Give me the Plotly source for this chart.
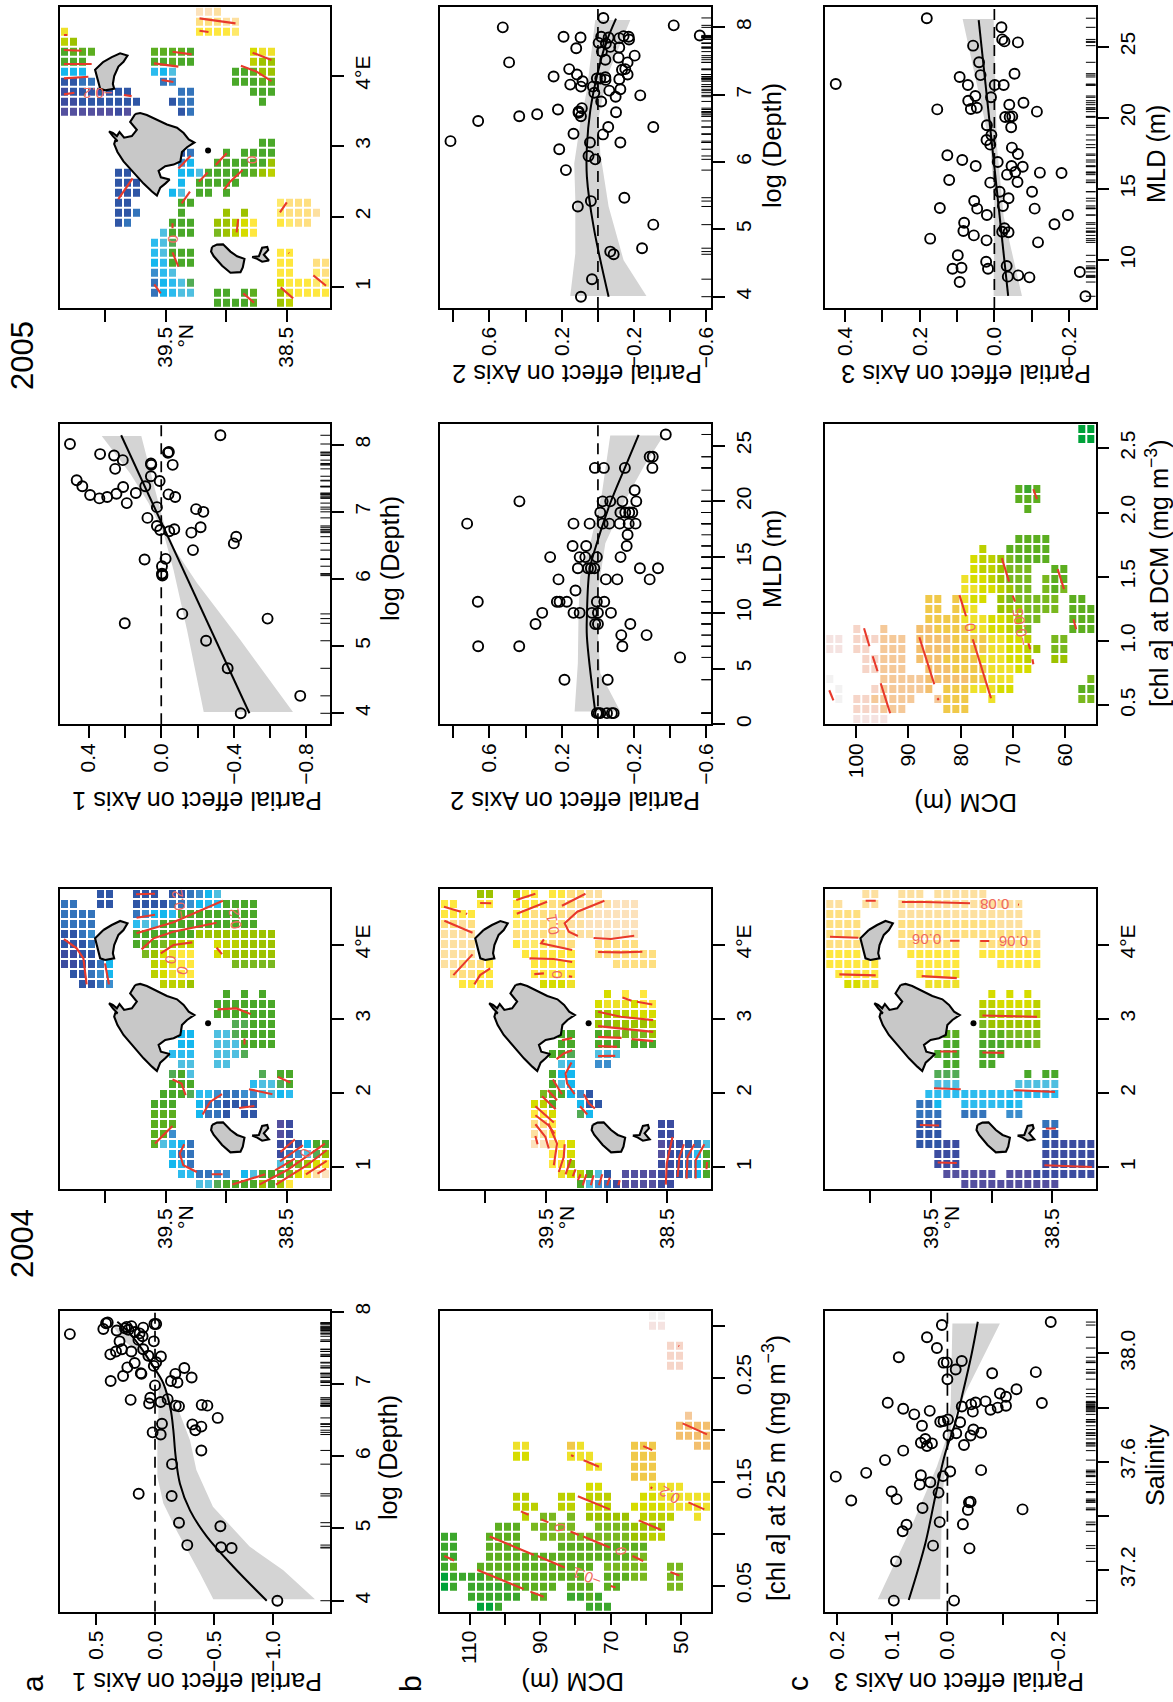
import numpy as np
import plotly.graph_objects as go

W, H = 1173, 1702
FONT = "Liberation Sans"
RED = "#e8392b"

# ---------- palette of cell classes ----------
PAL_KEYS = "abcdefghijklmnopqrstuvwxyzABC"
PAL_COLS = ["#54509f", "#3c4ca0", "#2f56a6", "#3474bb", "#3b8ecd", "#15b7ee", "#2bbbee", "#4fbfe0",
            "#52ab55", "#4aa829", "#5cae20", "#7ab81f", "#9dc200", "#bcd000", "#d6dc00", "#eee12a",
            "#fee73f", "#fee96a", "#fedf80", "#fde0a0", "#fce2bc",
            "#00a23a", "#3ca72c", "#f0c94a", "#f3bf6e", "#f5c999", "#f6d5c8", "#f5e3e1", "#f3f2f2"]

# ---------- a, depth 2004 ----------
PTS_A1 = [(-1.035,4.0),(-.648,4.73),(-.558,4.74),(-.273,4.77),(-.553,5.03),(-.203,5.08),(-.141,5.45),(.138,5.48),
 (-.144,5.89),(-.392,6.08),(-.048,6.30),(.02,6.33),(-.341,6.36),(-.392,6.41),(-.316,6.44),(-.059,6.45),(-.53,6.53),
 (-.443,6.70),(-.395,6.71),(-.203,6.69),(-.175,6.70),(-.048,6.75),(.05,6.73),(.04,6.81),(-.107,6.79),(.206,6.78),
 (0,6.98),(.375,7.04),(-.19,7.02),(-.135,7.04),(-.31,7.09),(-.172,7.14),(.27,7.11),(.115,7.14),(.12,7.15),(-.248,7.22),
 (.234,7.23),(.01,7.25),(.172,7.29),(-.01,7.30),(-.05,7.38),(.056,7.39),(.378,7.41),(.33,7.45),(.28,7.48),(.2,7.45),
 (.1,7.48),(.30,7.59),(.01,7.59),(.105,7.66),(.72,7.69),(.13,7.70),(.17,7.72),(.324,7.74),(.254,7.77),(.2,7.80),(.1,7.78),
 (.437,7.76),(-.01,7.83),(.005,7.83),(.414,7.84),(.40,7.85),(.225,7.75),(.14,7.61),(.24,7.79)]
FIT_A1 = [(-.945,4.0),(-.663,4.47),(-.437,4.89),(-.296,5.25),(-.211,5.62),(-.175,5.99),(-.155,6.36),(-.133,6.64),(-.07,7.01),(.014,7.24),(.127,7.52),(.225,7.72),(.319,7.86)]
LO_A1 = [(-1.353,4.02),(-1.085,4.42),(-.80,4.75),(-.49,5.30),(-.35,5.81),(-.296,6.22),(-.21,6.59),(-.07,6.96),(.04,7.33),(.18,7.65),(.27,7.77)]
HI_A1 = [(-.493,4.02),(-.38,4.38),(-.18,4.98),(-.07,5.35),(-.02,5.72),(-.02,6.13),(-.03,6.68),(-.03,7.0),(-.01,7.19),(.1,7.38),(.27,7.61),(.35,7.79)]

# ---------- c, salinity 2004 ----------
PTS_C1 = [(.097,37.087),(-.012,37.087),(.093,37.232),(.026,37.29),(-.04,37.28),(.081,37.343),(.074,37.367),(.014,37.377),
 (-.028,37.369),(.045,37.429),(-.037,37.422),(-.136,37.424),(-.039,37.45),(-.042,37.452),(.174,37.457),(.092,37.462),
 (.101,37.49),(.016,37.486),(.05,37.516),(.031,37.524),(.048,37.55),(.008,37.547),(.202,37.545),(.147,37.559),(-.005,37.564),
 (-.061,37.569),(.113,37.606),(.08,37.641),(-.03,37.662),(.048,37.67),(.037,37.658),(.028,37.668),(.04,37.684),(-.002,37.698),
 (-.016,37.705),(-.042,37.697),(-.061,37.707),(-.047,37.719),(.046,37.733),(-.023,37.746),(.013,37.748),(.007,37.75),(-.001,37.756),
 (.06,37.775),(.032,37.788),(.08,37.796),(-.046,37.785),(-.078,37.792),(-.091,37.80),(-.106,37.807),(.108,37.818),(-.026,37.804),
 (-.043,37.812),(-.051,37.819),(-.069,37.823),(-.171,37.817),(-.106,37.84),(-.095,37.852),(-.125,37.868),(0,37.905),(-.081,37.927),
 (-.16,37.931),(-.015,37.941),(.001,37.967),(.007,37.966),(-.026,37.972),(.088,37.986),(.019,38.02),(.037,38.06),(.01,38.105),(-.187,38.116)]
FIT_C1 = [(.07,37.089),(.04,37.298),(.022,37.471),(.004,37.631),(-.014,37.742),(-.029,37.865),(-.044,38.0),(-.055,38.117)]
LO_C1 = [(.126,37.092),(.073,37.323),(.019,37.582),(.001,37.692),(-.006,37.815),(-.009,38.111)]
HI_C1 = [(.013,37.092),(.01,37.446),(.001,37.643),(-.008,37.742),(-.035,37.865),(-.095,38.111)]

# ---------- a, depth (second year column) ----------
PTS_A2 = [(-.438,4.0),(-.766,4.26),(-.366,4.67),(-.247,5.08),(-.586,5.41),(.201,5.34),(-.116,5.48),(-.006,6.05),(-.004,6.08),
 (-.004,6.19),(-.024,6.30),(.092,6.29),(-.175,6.43),(-.40,6.53),(-.413,6.63),(-.166,6.69),(-.044,6.71),(.006,6.73),(-.072,6.74),
 (-.217,6.77),(.024,6.79),(.076,6.91),(-.232,7.0),(-.192,7.04),(.024,7.07),(.19,7.13),(.341,7.20),(.298,7.22),(.392,7.25),(.247,7.27),
 (.14,7.28),(-.04,7.26),(-.077,7.22),(.435,7.38),(.21,7.37),(.088,7.38),(.466,7.47),(.009,7.46),(.057,7.53),(.254,7.64),(.055,7.70),
 (-.063,7.70),(.057,7.72),(.212,7.77),(.26,7.84),(.337,7.86),(-.037,7.88),(-.042,7.89),(.503,8.01),(-.326,8.14),(-.006,6.07)]
FIT_A2 = [(-.486,4.0),(.221,8.14)]
LO_A2 = [(-.726,4.02),(-.436,5.09),(-.197,5.94),(-.04,6.58),(.015,7.13),(.11,8.13)]
HI_A2 = [(-.234,4.02),(-.142,5.24),(-.068,6.13),(-.013,6.68),(.07,7.13),(.171,7.57),(.328,8.13)]

# ---------- MLD, Axis 2 ----------
MLD_B2 = {1:[.006,-.013,-.05,-.077,-.087,-.004],4:[.185,-.054],6:[-.454],7:[.662,.435,-.135],8:[-.129,-.269],9:[.345,.015,0,-.179],
 10:[.308,.135,.101,.033,0,-.072],11:[.664,.227,.212,.172,.006,-.035],12:[.124],13:[.218,-.044,-.107,-.286],14:[.111,.055,.039,.02,-.232,-.332],
 15:[.264,.101,.07,.006,-.125],16:[.14,.065,-.159],17:[-.164],18:[.723,.135,.046,-.026,-.063,-.12,-.17,-.208],19:[-.013,-.124,-.151,-.173,-.19],
 20:[.434,-.026,-.068,-.135,-.212],21:[-.203],23:[.017,-.033,-.149,-.301],24:[-.286,-.303],26:[-.375]}
PTS_B2 = [(v, m) for m, vals in MLD_B2.items() for v in vals]
FIT_B2 = [(.015,1.14),(.061,7.86),(.061,9.66),(.046,13.85),(.006,16.24),(-.068,19.83),(-.151,23.1),(-.225,25.96)]
LO_B2 = [(-.124,1.14),(-.013,4.57),(.002,8.76),(-.004,12.35),(-.041,16.24),(-.142,19.83),(-.253,23.1),(-.363,25.9)]
HI_B2 = [(.129,1.14),(.111,5.47),(.107,10.26),(.098,13.25),(.042,16.24),(-.022,20.72),(-.068,25.9)]

# ---------- depth, Axis 2 ----------
PTS_B3 = [(.094,4.0),(.033,4.26),(-.244,4.72),(-.068,4.67),(-.087,4.63),(-.306,5.07),(.111,5.34),(.039,5.42),(-.146,5.47),(.177,5.88),
 (.015,6.04),(.052,6.09),(.214,6.19),(.044,6.29),(-.124,6.29),(.815,6.31),(.135,6.42),(-.028,6.41),(-.057,6.52),(-.306,6.52),(.662,6.61),
 (.435,6.68),(.336,6.71),(.107,6.73),(.094,6.68),(.107,6.75),(.089,6.80),(.221,6.78),(-.1,6.74),(-.018,6.90),(-.098,6.97),(-.234,6.99),
 (.02,7.03),(.028,7.12),(-.124,7.08),(-.063,7.06),(.153,7.15),(.094,7.12),(.085,7.20),(.245,7.27),(.006,7.24),(-.013,7.24),(-.041,7.26),
 (-.042,7.22),(-.118,7.23),(-.164,7.30),(.116,7.30),(.159,7.38),(-.133,7.37),(-.151,7.38),(-.164,7.48),(.491,7.48),(-.041,7.52),(-.114,7.55),
 (-.203,7.58),(-.022,7.64),(.12,7.69),(-.118,7.70),(-.068,7.71),(-.004,7.77),(-.044,7.76),(.19,7.86),(.096,7.85),(-.018,7.86),(-.059,7.85),
 (-.118,7.84),(-.142,7.87),(-.17,7.86),(-.172,7.82),(-.419,8.03),(.526,8.0),(-.563,7.88),(-.03,8.14)]
FIT_B3 = [(-.059,4.0),(.024,5.04),(.061,5.78),(.061,6.23),(.042,6.77),(.006,7.27),(-.041,7.74),(-.1,8.13)]
LO_B3 = [(-.268,4.01),(-.142,4.54),(-.059,5.34),(-.013,6.13),(-.004,6.67),(-.05,7.27),(-.179,8.11)]
HI_B3 = [(.153,4.01),(.125,4.64),(.125,5.44),(.131,5.98),(.098,6.57),(.061,7.07),(.015,8.11)]

# ---------- MLD, Axis 3 ----------
PTS_C3 = [(-.244,7.45),(.093,8.45),(-.036,8.83),(-.064,8.92),(-.094,8.78),(-.229,9.16),(.112,9.39),(.088,9.46),(.017,9.39),(-.033,9.58),
 (.022,9.88),(.098,10.33),(-.117,11.24),(.021,11.38),(.172,11.5),(.055,11.73),(.083,12.04),(-.021,11.99),(-.038,11.95),(-.027,12.23),
 (.081,12.62),(-.161,12.51),(.02,13.16),(-.197,13.16),(.046,13.61),(.146,13.66),(-.023,13.8),(-.108,13.61),(.054,14.15),(-.038,14.34),
 (-.101,14.8),(-.014,14.8),(.011,15.44),(-.062,15.48),(.121,15.62),(-.034,16.0),(-.056,16.19),(-.122,16.14),(-.18,16.12),(-.046,16.61),
 (-.076,16.56),(.05,16.61),(-.009,16.89),(.086,17.03),(.126,17.36),(-.063,17.45),(-.047,17.9),(.011,18.11),(.021,18.44),(.008,18.79),
 (.02,19.47),(-.045,19.33),(-.029,20.05),(-.041,20.05),(-.048,20.1),(-.114,20.43),(.153,20.59),(.063,20.62),(.047,20.71),(.07,21.2),
 (-.078,21.06),(-.04,20.92),(.051,21.53),(.009,21.44),(.425,22.37),(.071,22.3),(-.001,22.3),(-.025,22.3),(.093,22.87),(.037,23.0),
 (-.054,23.1),(.041,23.9),(.057,25.07),(-.063,25.3),(-.021,25.51),(-.027,25.37),(-.019,26.36),(.181,27.0)]
FIT_C3 = [(-.037,7.47),(.042,26.87)]
LO_C3 = [(-.074,7.47),(-.025,13.05),(-.007,18),(.002,26.95)]
HI_C3 = [(.002,7.47),(0,14.2),(.011,18),(.085,26.95)]

# ---------- coastlines (lat, lon) ----------
MALLORCA = [(39.751,3.456),(39.71,3.47),(39.655,3.443),(39.586,3.389),(39.489,3.308),(39.406,3.263),(39.351,3.187),(39.309,3.097),(39.262,3.052),
 (39.323,2.985),(39.365,2.917),(39.378,2.783),(39.434,2.738),(39.503,2.715),(39.558,2.648),(39.539,2.558),(39.467,2.527),(39.503,2.468),(39.544,2.41),
 (39.572,2.298),(39.613,2.356),(39.682,2.468),(39.765,2.625),(39.848,2.783),(39.898,2.917),(39.925,3.03),(39.917,3.075),(39.898,3.075),(39.936,3.142),
 (39.967,3.209),(39.936,3.187),(39.903,3.142),(39.881,3.2),(39.862,3.164),(39.843,3.12),(39.779,3.142),(39.738,3.232),(39.793,3.344),(39.751,3.456)]
MENORCA = [(40.014,4.197),(39.945,4.264),(39.876,4.318),(39.815,4.287),(39.848,4.197),(39.89,4.13),(39.925,3.995),(39.936,3.883),(39.925,3.815),
 (40.0,3.793),(40.041,3.815),(40.064,3.95),(40.083,4.085),(40.014,4.197)]
IBIZA = [(39.116,1.57),(39.075,1.602),(39.025,1.606),(38.964,1.503),(38.909,1.436),(38.848,1.4),(38.862,1.278),(38.881,1.211),(38.964,1.202),
 (39.033,1.301),(39.102,1.436),(39.124,1.503),(39.116,1.57)]
FORMENTERA = [(38.785,1.427),(38.729,1.436),(38.702,1.557),(38.66,1.57),(38.652,1.525),(38.688,1.458),(38.646,1.377),(38.702,1.359),(38.743,1.4),(38.785,1.427)]
CABRERA = (39.149, 2.94)

# ---------- gridded surfaces: "start column:cell classes" per row ----------
GRID_MAP_A04 = ["4:cc 8:ccc 12:ccdefh","0:dd 4:cc 8:ccccddefggjjjj","0:dddd 8:deffgjjjjjjjjj","0:dddd 8:ghhjjjjjjjjjjj","0:ccde 8:jjjjjjjmmmmmmmmm",
 "0:cccd 8:jkklmnn 17:onnmmmm","0:bbcc 9:lmopqq 17:onmmmmm","0:bbccdf 10:nopqq 19:lllll","1:ccdef 10:nopqq","2:ccde 11:nnnm","18:j 20:j 22:j","17:jjjjjjj","17:jjjjjjj",
 "19:iijjj","13:ff 17:hh 19:ijjjj","13:ff 17:hhh 20:jjjj","12:ggg 17:hhhi","13:hh 17:hh","12:ijh 22:i 24:jj","12:jjj 21:ghh 24:ij","11:jjjiggeddeehhfg",
 "10:jjj 15:fddcccc","10:kkk 15:fddc 20:cc","10:kkk 24:ab","10:kke 24:ab","10:khgfd 24:bbcfjj","12:gdd 24:bdehim","12:fgd 24:hjlmoq","13:ggddee 20:fhjjjloqtu","15:hhijjjjmjmq"]
GRID_MAP_B04 = ["4:mm 8:nqq 12:qqsstt","0:qq 4:qq 8:qqqrsssttttuuu","0:qqqq 8:qqsssstttuuuuu","0:ssts 8:rrssssttuuuuuu","0:tttt 8:sssssstttuuuuu",
 "0:tttt 8:qrrrsss 17:sssss","0:tttt 9:qqqqqq 17:sssssss","0:ttsssq 10:qqqqq 19:sssss","1:sssqq 10:qqqqq","2:qqqq 11:ooop","18:o 20:q 22:q","17:opppoqq","17:mmnnooo",
 "17:mlmmmmn","13:jj 17:jkllllm","13:jj 17:jjj 21:jjj","12:jji 17:hhh","13:hg 17:ee","12:jff","12:jhf","11:lkjf 15:ec","10:onj 15:fcc","10:qqo 15:if","10:ssq 24:bb","10:ttq 24:bb",
 "10:uusqo 24:abbcdh","12:qqo 24:abcdgj","12:qqm 24:bbcdfj","13:ponjhc 20:aaaabbcdfj","15:jhedbaaaabb"]
GRID_MAP_C04 = ["4:tt 8:ttt 12:tttttt","0:tt 4:tt 8:tttttttttttttt","0:ssss 8:tttttttttttttt","0:ssss 8:sssssssssssttt","0:ssss 8:ssssssssssssssss",
 "0:ssss 8:sssssss 17:sssssss","0:qqqq 9:qqqqqq 17:qqqqqqq","0:qqqqqq 10:qqqqq 19:qqqqq","1:qqqqq 10:qqqqp","2:oopp 11:pppp","18:o 20:o 22:o","17:nnoooon","17:mmnnnnn",
 "17:lmmmmmm","13:kk 17:kkkllll","13:jj 17:jjjkkkl","12:jjj 17:jjj","13:jj 17:jj","12:iii 22:j 24:jj","12:hhh 21:hhhhh","11:ggggggggggggggg","10:ddf 15:gggggfg","10:ddd 15:ddd 20:ee",
 "10:ccc 24:dd","10:ccc 24:cc","10:cccbb 24:cbbbbb","12:bbb 24:bbbbbb","12:bbb 24:bbbbbb","13:aaaaaa 20:aaabbbbbbb","15:aaaaaaaaaaa"]
GRID_MAP_A05 = ["15:uut","15:ssstt","0:p 15:qqqqr","0:nm","0:jkkk 10:kkkkj 21:opp","0:jjj 10:jjkjj 21:nmm","0:fff 10:gfh 19:jjkmm","0:ccdd 11:de 19:jjjkk","0:bccccccc 13:dd 21:jjj",
 "0:bbccccccc 12:cdd 22:j","0:aaaaaaba 13:cd","","","22:jj","13:cd 18:j 20:jjjj","13:ef 17:jjjjjjm","6:cc 13:ffhj 17:jjjjkmn","6:ccc 13:f 15:jjjjj","6:ccc 12:fh 15:jj 18:j","6:cc 13:jj 24:rsss",
 "6:ccd 13:j 18:m 20:m 24:rssst","6:cd 12:jjj 17:mmnoq 24:qrss","11:hjjj 17:lmnoq","10:ghi","10:gh 12:jjj 24:qq","10:fg 12:jjj 24:qq 28:ss","10:egh 24:qq 28:rs","10:dfghi 24:oqqqrr",
 "10:dfghh 17:jj 20:jk 24:mpqqqq","17:jjjjk 24:mn"]
GRID_DCM_25 = ["23:CC","23:BB","","25:AA","25:AA","25:AA","","","","","27:z","26:yyyy","26:yyyy","8:pp 14:xp 21:xxx 28:yy","8:oo 14:ppp 21:xxx","16:pp 21:xxx","21:xxx","16:oo 23:pppp",
 "8:nn 13:nn 16:nnn 22:oopppppp","8:nnn 13:nn 16:nnn 21:ooooppppp","9:n 11:ll 14:l 16:mmmmm 22:nnnn 28:p","6:kkk 10:lllll 17:llllmmmm","0:ww 5:kkkk 11:llllllllllmmnn","0:ww 5:kkkk 13:kkkkkkkkkk",
 "0:ww 5:kkkkkkkkkkkkkkkkll","0:wk 4:kkkkkkkkkkkk 16:k 18:lllll 25:ll","0:vw 2:wwwkkkkkkkkkkk 18:kkkll 25:ll","0:vw 3:wwwwwkkkkk 14:kkk 18:kk 25:ll","3:wwwwww 10:kk 14:wwkw","4:vvw 16:www"]
GRID_DCM_CHL = ["28:vv","28:vv","","","","","21:kwk","21:kkk","22:k","","","21:kkkk","17:n 20:kkkkk","16:onnmlkkkk","16:onnmlll 25:kk","15:poonmlll 24:lkk","15:ppoonmll 24:lkl",
 "11:xx 14:xpoo 19:mllllll 27:kk","11:xx 14:xpp 19:mmmllll 27:kkk","11:xxxxpppoonmll 27:kkk","3:A 6:z 10:yyxxxxppoonml 27:kkk","0:BB 3:AAAzzz 10:yyyyxxxxppoon 25:ll",
 "0:BB 3:AA 6:zzz 10:yyyyxxxxppoon 23:m 25:ll","4:AA 6:zzz 10:yyyxxxxpppoon 25:mm","4:AA 6:zzz 11:yyyxxxxpppoo","0:C 6:zzzzzyyyyyxxppp 29:l","1:C 5:Azzzzzy 13:xxxpppoo 28:kk",
 "1:C 3:AAzzzzz 12:zxxx 18:p 28:ll","3:AAAzzz 13:xxx","3:BBBB"]

# ---------- contours, in cell units of the 30 x 30 grid ----------
CONT_MAP_A04 = [[(8.44,.53),(10.56,.47)],[(8.5,2.87),(10.56,2.57)],[(8.5,4.43),(12.6,3.33),(18.1,1.17)],[(9.07,6.03),(10.4,4.93),(12.6,4.27),(17.4,3.37)],
 [(11.2,6.43),(12.6,5.6),(14.7,5.33)],[(17.4,5.87),(18,6.5)],[(.44,5),(1.85,5.93),(2.6,6.93),(2.96,9.53)],[(5,7.43),(5.44,9.53)],[(17.5,12.03),(19.6,11.93),(21.2,12.5)],
 [(20.5,14.93),(20.5,15.53)],[(12.5,19.03),(13.5,19.43),(13.96,20.6)],[(18,20.5),(16.67,21.27),(15.85,22.53)],[(21,20),(23.6,20.5)],[(24.2,18.77),(25.6,19.33)],
 [(19.9,21.87),(21.6,21.67)],[(10.56,25.43),(12.5,23.67)],[(13.8,25.5),(13.3,26.43),(13.7,27.6),(15.2,28.27)],[(16.85,28.5),(18.07,28.5)],[(19.15,29.53),(22.8,28.5)],
 [(22.15,29.53),(25.2,28.1),(29.44,25.43)],[(24,29.53),(27.4,27.6),(29.63,26.1)],[(23.9,28.1),(26.1,26.93)],[(24.44,27.2),(27,25.6)],[(24.5,26.27),(26.1,25.03)],
 [(27.33,28.5),(29.63,27.17)],[(28.6,28.43),(29.56,27.93)]]
CONT_MAP_B04 = [[(8.44,1.1),(10.56,.47)],[(8.5,2.47),(11.85,1.27)],[(13.5,1.67),(16.1,.47)],[(4.44,1.4),(5.67,1.43)],[(.44,1.77),(2.3,2.27)],[(.48,3.17),(3.6,4.37)],[(2.87,2.43),(3,2.5)],
 [(18.2,1.17),(15.2,2.27),(13.8,3.43),(14.26,4.27),(15.26,4.7)],[(17,4.9),(18.9,5),(21.5,4.67)],[(17.5,6.3),(20,6.33),(22.4,6.27)],[(11.5,5.03),(11.2,5.43),(14.63,6.1)],
 [(9.9,6.93),(12.6,7),(14.63,7.3)],[(10.44,8.5),(11.5,8.43)],[(14.26,8.73),(14.63,8.77)],[(3.6,6.53),(1.48,8.6)],[(5.56,7.93),(4.44,8.6),(3.8,9.53)],[(20.2,10.83),(21.2,11.17)],
 [(21.8,11.27),(23.5,11.53)],[(17.5,12.27),(20,12.77),(23.6,13.1)],[(17.5,13.7),(20.7,14.03),(23.6,14.27)],[(17.5,14.77),(20.1,14.87)],[(21.2,15),(23.6,15.2)],[(17.5,15.7),(19.6,15.77)],
 [(17.5,16.7),(19.4,16.67)],[(13.5,15.1),(14.63,14.9)],[(12.9,17),(13.7,16.43),(14.63,16.1)],[(14.56,17.33),(13.9,18.43),(14.07,19.43),(14.9,20.5)],[(12.5,19.03),(13.5,20.5)],
 [(11.93,20.1),(12.96,21.1)],[(11.3,20.7),(12.8,22)],[(10.56,21.7),(12.6,23.33)],[(10.56,22.6),(12,23.6),(12.67,24.43)],[(10.56,23.5),(11.67,24.77),(12.04,25.93)],
 [(12,23.43),(12.96,25.43),(12.6,27.6)],[(10.56,24.67),(10.8,25.5)],[(13.8,25.5),(13.7,26.77),(13.15,28.27)],[(14.5,26.97),(13.9,28.5)],[(15,28),(14.7,28.7)],[(15.56,28.5),(15.26,29.1)],
 [(16.2,28.5),(15.8,29.6)],[(17,28.6),(16.7,29.6)],[(17.96,28.5),(17.6,29.6)],[(18.8,28.83),(18.5,29.6)],[(19.9,29.1),(19.74,29.6)],[(15.93,20.5),(16.5,21.43),(17.15,21.93)],
 [(15.5,21.7),(16.3,22.53)],[(25.74,24.77),(25.1,27.4),(25,29.53)],[(27,25.5),(26.5,26.77),(26.3,28.77)],[(28.15,25.5),(27.4,26.77),(27.3,28.93)],[(29.26,25.5),(28.3,27.1),(28.3,28.93)],
 [(29.56,27.27),(29.5,28)]]
CONT_MAP_C04 = [[(4.48,1.17),(5.6,1.17)],[(8.5,1.3),(11.07,1.3),(16.07,1.43)],[(.52,4.77),(3.67,4.87)],[(13.85,5.17),(14.9,5.17)],[(17.2,5.2),(18.2,5.2)],[(1.56,8.53),(5.6,8.63)],
 [(10.7,8.7),(14.6,8.9)],[(17.44,12.63),(23.5,12.77)],[(17.44,16.33),(19.8,16.37)],[(12.74,16.23),(14.6,16.23)],[(12.07,19.9),(15.04,20)],[(20.9,20.1),(25.5,20.27)],
 [(10.5,23.57),(12.63,23.63)],[(24.48,23.93),(25.6,23.93)],[(12.48,27.33),(14.6,27.37)],[(24.33,27.6),(29.6,27.77)],[(21.4,1.55),(21.5,1.57)]]
CONT_MAP_A05 = [[(.44,2.82),(.81,2.82)],[(.44,4.31),(2.4,4.38)],[(.44,5.71),(3.52,5.71)],[(.44,7.14),(3.15,6.97)],[(.44,8.73),(1.6,8.56)],[(7.1,8.8),(7.96,8.9)],[(12.5,4.48),(14.63,4.75)],
 [(10.44,5.64),(13.15,5.97)],[(11.3,7.3),(12.6,7.5)],[(15.5,1.16),(19.5,1.66)],[(15.5,2.39),(16.5,2.52)],[(21.4,4.58),(23.5,5.31)],[(20.1,5.87),(21.85,6.47),(23.5,7.4)],
 [(24.44,20.48),(25.2,19.48)],[(28.15,26.75),(29.56,27.78)],[(24.52,27.95),(25.9,29.04)],[(20.37,28.54),(21.56,29.47)],[(19.8,21.14),(19.63,22.47)],[(12.5,21.57),(12.5,22.07)],
 [(12.5,24.46),(13.15,25.89)],[(10.48,27.65),(11.19,28.54)],[(14.52,14.84),(13.15,16.1)],[(18.52,14.6),(17.3,15.77)],[(16.4,16.5),(15.44,17.42)],[(20.3,16.26),(18.9,17.42),(18.26,18.19)],
 [(14.44,18.42),(13.52,19.58)],[(8.07,17.09),(6.48,19.15)],[(25.4,24.5),(25.45,24.55)]]
CONT_DCM_25 = [[(26.85,11.23),(29.56,12.33)],[(22.5,13.5),(23.5,13.9)],[(14.5,14.4),(14.8,14.5)],[(15.9,14.9),(17.6,15.55)],[(23.3,17.6),(23.5,17.7)],[(15.26,18.5),(18.8,19.8)],
 [(27.5,19.1),(29.26,19.8)],[(8.96,20),(9.8,20.33)],[(11.2,20.8),(12,21.1)],[(14.44,22),(15.37,22.36)],[(15.85,22.5),(18.8,23.6)],[(22,20.9),(24.5,21.86)],[(5.5,22.5),(10.4,24.35)],
 [(10.8,24.45),(13.8,25.6)],[(.48,24.45),(1.56,24.9)],[(21.3,24.45),(22.5,24.95)],[(4.15,25.85),(9.26,27.74)],[(10,28),(11.48,28.5)],[(18.9,27.44),(19.44,27.6)],[(25.5,26.05),(26.5,26.4)],
 [(26.4,3.5),(26.48,3.53)]]
CONT_DCM_CHL = [[(4.3,20.4),(4.9,22.2)],[(5.26,23.2),(5.8,24.7)],[(6.15,25.9),(7.2,28.9)],[(.44,26.6),(.9,27.6)],[(10.44,21.3),(12.1,26)],[(12.44,27.4),(12.6,27.57)],[(14.9,17.1),(15.63,19.2)],
 [(16.37,21.5),(18.4,27.4)],[(19.6,13.4),(20.4,15.75)],[(20.8,17.15),(21.07,17.75)],[(25.8,14.5),(26.5,16.5)],[(27.55,19.5),(27.85,20.5)],[(23.1,6.5),(23.5,7.5)],[(22.55,21.9),(22.74,22.5)],[(23,23.5),(23.1,24)]]

# contour labels: u, v, text, angle
LAB_MAP_A04 = [(13.2,1.55,"−0.2",-100),(19.4,2.95,"0.2",-100),(13.5,8.2,"0",-80),(12.2,7.1,"0",-80),(27.2,26.4,"0",-70)]
LAB_MAP_B04 = [(12.4,3.6,"0.1",-100),(12.8,8.6,"0",-90)]
LAB_MAP_C04 = [(18.8,1.55,"0.08",180),(11.3,5.1,"0.06",180),(20.9,5.25,"0.06",180)]
LAB_MAP_A05 = [(4.2,8.7,"−0.2",180),(12.5,23.2,"0",-90),(21.3,15.3,"0",-90)]
LAB_DCM_25 = [(25.4,18.4,"0.2",210),(16.2,26.5,"−0.1",200),(13.2,21.6,"0",-100),(20,24,"0",-100)]
LAB_DCM_CHL = [(16,20.3,"0",-100),(21.6,20.3,"−0.05",-100)]

# ---------- ticks ----------
T_LAT = [40.0, 39.5, 39.0, 38.5]; T_LAT_TXT = ["", "39.5", "", "38.5"]
T_LON = [1, 2, 3, 4]; T_LON_TXT = ["1", "2", "3", "4°E"]
T_DEPTH = [4, 5, 6, 7, 8]; T_DEPTH_TXT = ["4", "5", "6", "7", "8"]


def grid(rows):
    z = np.full((30, 30), np.nan)
    for r, row in enumerate(rows):
        for part in row.split():
            s, codes = part.split(":")
            for k, ch in enumerate(codes):
                z[r, int(s) + k] = PAL_KEYS.index(ch)
    return z


COLS = [(60, 330), (440, 711), (825.3, 1095.5)]
BANDS = [(1310.7, 1611.7), (889, 1189.3), (424, 724.3), (6.7, 308)]
fig = go.Figure()
layout = {}
annots = []
COLORSCALE = [[i / (len(PAL_COLS) - 1), c] for i, c in enumerate(PAL_COLS)]


def xy(pairs):
    return [p[0] for p in pairs], [p[1] for p in pairs]


def paper(px, py, text, size, angle):
    annots.append(dict(x=px / W, y=1 - py / H, xref="paper", yref="paper", text=text, showarrow=False,
                       textangle=angle, font=dict(family=FONT, size=size, color="black"),
                       xanchor="center", yanchor="middle"))


def panel(idx, col, band, xr, yr, xt, xtt, yt, ytt):
    x0, x1 = COLS[col]; yt0, yb0 = BANDS[band]
    common = dict(showline=True, linecolor="black", linewidth=2, mirror=True, ticks="outside", ticklen=11.5, tickwidth=1.7,
                  tickcolor="black", showgrid=False, zeroline=False, tickangle=-90, tickmode="array",
                  tickfont=dict(family=FONT, size=21, color="black"))
    layout[f"xaxis{idx}"] = dict(domain=[x0 / W, x1 / W], range=xr, tickvals=xt, ticktext=xtt, anchor=f"y{idx}", side="bottom",
                                 ticklabelstandoff=-3, **common)
    layout[f"yaxis{idx}"] = dict(domain=[1 - yb0 / H, 1 - yt0 / H], range=yr, tickvals=yt, ticktext=ytt, anchor=f"x{idx}", side="right",
                                 ticklabelstandoff=1, **common)


def effect_panel(idx, col, band, xr, yr, xt, xtt, yt, ytt, pts, fit, lo, hi):
    panel(idx, col, band, xr, yr, xt, xtt, yt, ytt)
    ax = dict(xaxis=f"x{idx}", yaxis=f"y{idx}", showlegend=False, hoverinfo="skip")
    bx = [p[0] for p in lo] + [p[0] for p in hi[::-1]]
    by = [p[1] for p in lo] + [p[1] for p in hi[::-1]]
    fig.add_trace(go.Scatter(x=bx, y=by, fill="toself", fillcolor="#d4d4d4", mode="none", **ax))
    fig.add_trace(go.Scatter(x=[0, 0], y=yr, mode="lines", line=dict(color="black", width=1.7, dash="11px,7px"), **ax))
    fx, fy = xy(fit)
    fig.add_trace(go.Scatter(x=fx, y=fy, mode="lines", line=dict(color="black", width=2, shape="spline"), **ax))
    px, py = xy(pts)
    fig.add_trace(go.Scatter(x=px, y=py, mode="markers",
                             marker=dict(symbol="circle-open", size=10, color="black", line=dict(width=1.9, color="black")), **ax))
    width = COLS[col][1] - COLS[col][0]
    rx = xr[1] + (xr[0] - xr[1]) * 4 / width
    fig.add_trace(go.Scatter(x=[rx] * len(py), y=py, mode="markers",
                             marker=dict(symbol="line-ew", size=8, color="black", line=dict(width=1, color="black")), **ax))


def grid_panel(idx, col, band, xr, yr, xt, xtt, yt, ytt, rows, cont, labs):
    panel(idx, col, band, xr, yr, xt, xtt, yt, ytt)
    ax = dict(xaxis=f"x{idx}", yaxis=f"y{idx}", showlegend=False)
    z = grid(rows)
    xs = np.array([xr[0] + (c + .5) / 30 * (xr[1] - xr[0]) for c in range(30)])
    ys = np.array([yr[1] + (r + .5) / 30 * (yr[0] - yr[1]) for r in range(30)])
    ox, oy = np.argsort(xs), np.argsort(ys)
    fig.add_trace(go.Heatmap(x=xs[ox], y=ys[oy], z=z[oy][:, ox], colorscale=COLORSCALE, zmin=0, zmax=len(PAL_COLS) - 1,
                             showscale=False, xgap=2, ygap=2, hoverinfo="skip", **ax))
    cx, cy = [], []
    for line in cont:
        for u, v in line:
            cx.append(xr[0] + u / 30 * (xr[1] - xr[0]))
            cy.append(yr[1] + v / 30 * (yr[0] - yr[1]))
        cx.append(None); cy.append(None)
    fig.add_trace(go.Scatter(x=cx, y=cy, mode="lines", line=dict(color=RED, width=2.1), hoverinfo="skip", **ax))
    for u, v, t, a in labs:
        annots.append(dict(x=xr[0] + u / 30 * (xr[1] - xr[0]), y=yr[1] + v / 30 * (yr[0] - yr[1]), xref=f"x{idx}", yref=f"y{idx}",
                           text=t, showarrow=False, textangle=a, font=dict(family=FONT, size=15, color="#ef6a5e")))


def map_panel(idx, col, band, yr, rows, cont, labs):
    xr = [40.373, 38.141]
    grid_panel(idx, col, band, xr, yr, T_LAT, T_LAT_TXT, T_LON, T_LON_TXT, rows, cont, labs)
    ax = dict(xaxis=f"x{idx}", yaxis=f"y{idx}", showlegend=False, hoverinfo="skip")
    for isl in (MALLORCA, MENORCA, IBIZA, FORMENTERA):
        ix, iy = xy(isl)
        fig.add_trace(go.Scatter(x=ix, y=iy, mode="lines", fill="toself", fillcolor="#c8c8c8", line=dict(color="black", width=2.1), **ax))
    fig.add_trace(go.Scatter(x=[CABRERA[0]], y=[CABRERA[1]], mode="markers", marker=dict(color="black", size=6), **ax))
    x0, x1 = COLS[col]
    tick_px = x0 + (xr[0] - 39.5) / (xr[0] - xr[1]) * (x1 - x0)
    paper(tick_px + 20, BANDS[band][1] + 28, "°N", 21, -90)


YR_MAP = [0.704, 4.749]
YR_MAP5 = [0.702, 4.98]

# band 0: bottom of picture
effect_panel(1, 0, 0, [.8035, -1.48], [3.848, 8.014], [.5, 0, -.5, -1], ["0.5", "0.0", "−0.5", "−1.0"], T_DEPTH, T_DEPTH_TXT, PTS_A1, FIT_A1, LO_A1, HI_A1)
grid_panel(2, 1, 0, [118.4, 41.56], [.025, .3144], [110, 100, 90, 80, 70, 60, 50], ["110", "", "90", "", "70", "", "50"],
           [.05, .10, .15, .20, .25, .30], ["0.05", "", "0.15", "", "0.25", ""], GRID_DCM_25, CONT_DCM_25, LAB_DCM_25)
effect_panel(3, 2, 0, [.221, -.268], [37.046, 38.158], [.2, .1, 0, -.1, -.2], ["0.2", "0.1", "0.0", "", "−0.2"],
             [37.2, 37.4, 37.6, 37.8, 38.0], ["37.2", "", "37.6", "", "38.0"], PTS_C1, FIT_C1, LO_C1, HI_C1)
# band 1: maps 2004
map_panel(4, 0, 1, YR_MAP, GRID_MAP_A04, CONT_MAP_A04, LAB_MAP_A04)
map_panel(5, 1, 1, YR_MAP, GRID_MAP_B04, CONT_MAP_B04, LAB_MAP_B04)
map_panel(6, 2, 1, YR_MAP, GRID_MAP_C04, CONT_MAP_C04, LAB_MAP_C04)
# band 2
XT6 = [.8, .6, .4, .2, 0, -.2, -.4, -.6]; XT6_T = ["", "0.6", "", "0.2", "", "−0.2", "", "−0.6"]
effect_panel(7, 0, 2, [.558, -.93], [3.836, 8.308], [.4, .2, 0, -.2, -.4, -.6, -.8], ["0.4", "", "0.0", "", "−0.4", "", "−0.8"], T_DEPTH, T_DEPTH_TXT, PTS_A2, FIT_A2, LO_A2, HI_A2)
effect_panel(8, 1, 2, [.873, -.625], [0, 26.94], XT6, XT6_T, [0, 5, 10, 15, 20, 25], ["0", "5", "10", "15", "20", "25"], PTS_B2, FIT_B2, LO_B2, HI_B2)
grid_panel(9, 2, 2, [105.87, 54.26], [.352, 2.689], [100, 90, 80, 70, 60], ["100", "90", "80", "70", "60"],
           [.5, 1, 1.5, 2, 2.5], ["0.5", "1.0", "1.5", "2.0", "2.5"], GRID_DCM_CHL, CONT_DCM_CHL, LAB_DCM_CHL)
# band 3: top of picture
map_panel(10, 0, 3, YR_MAP5, GRID_MAP_A05, CONT_MAP_A05, LAB_MAP_A05)
effect_panel(11, 1, 3, [.873, -.625], [3.832, 8.307], XT6, XT6_T, T_DEPTH, T_DEPTH_TXT, PTS_B3, FIT_B3, LO_B3, HI_B3)
effect_panel(12, 2, 3, [.453, -.271], [6.625, 27.81], [.4, .3, .2, .1, 0, -.1, -.2], ["0.4", "", "0.2", "", "0.0", "", "−0.2"],
             [10, 15, 20, 25], ["10", "15", "20", "25"], PTS_C3, FIT_C3, LO_C3, HI_C3)

# axis titles
S = 25.3
CHL25 = "[chl <i>a</i>] at 25 m (mg m<sup>−3</sup>)"
CHLD = "[chl <i>a</i>] at DCM (mg m<sup>−3</sup>)"
for px, py, t in [(388, 1458, "log (Depth)"), (774, 1468, CHL25), (1155, 1465, "Salinity"),
                  (390, 559, "log (Depth)"), (772, 559, "MLD (m)"), (1157, 573, CHLD),
                  (772, 146, "log (Depth)"), (1156, 154, "MLD (m)")]:
    paper(px, py, t, S, -90)
for px, py, t in [(197, 1682, "Partial effect on Axis 1"), (573, 1682, "DCM (m)"), (959, 1682, "Partial effect on Axis 3"),
                  (197, 801, "Partial effect on Axis 1"), (575, 801, "Partial effect on Axis 2"), (966, 803, "DCM (m)"),
                  (577, 374, "Partial effect on Axis 2"), (966, 374, "Partial effect on Axis 3")]:
    paper(px, py, t, S, 180)
for px, py, t in [(32, 1684, "a"), (410, 1684, "b"), (797, 1684, "c")]:
    paper(px, py, t, 30, -90)
paper(22, 1244, "2004", 31, -90)
paper(22, 356, "2005", 31, -90)

fig.update_layout(width=W, height=H, margin=dict(l=0, r=0, t=0, b=0, pad=0, autoexpand=False), paper_bgcolor="white", plot_bgcolor="white",
                  showlegend=False, annotations=annots, **layout)
fig.write_html("out.html", config={"displayModeBar": False},
               post_script="document.body.style.margin='0';document.documentElement.style.overflow='hidden';")
